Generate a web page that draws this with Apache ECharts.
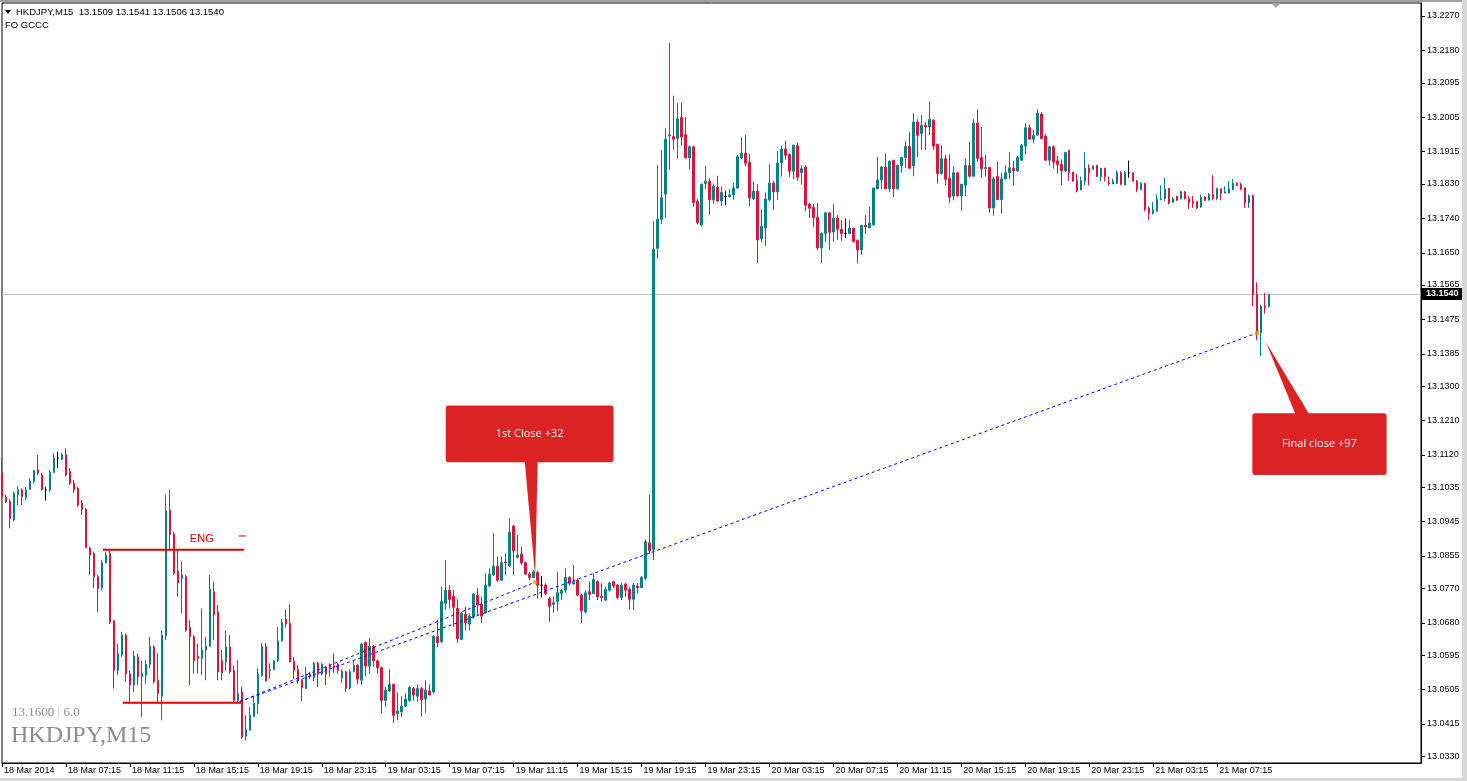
<!DOCTYPE html>
<html><head><meta charset="utf-8">
<script src="https://cdn.jsdelivr.net/npm/echarts@6/dist/echarts.min.js"></script>
<style>html,body{margin:0;padding:0;background:#fff;overflow:hidden}#c{width:1467px;height:781px}</style>
</head><body><div id="c"></div>
<script>
// ---------- DATA (HKDJPY M15, from 18 Mar 2014 03:15) ----------
const symbolName = 'HKDJPY,M15';
const lastQuote = [13.1509, 13.1541, 13.1506, 13.1540]; // O H L C of last bar
const currentPrice = 13.1540;
const startTime = '2014-03-18T03:15:00Z';
const slotCount = 356; // bars + empty chart shift area

const opens = [
13.1072,13.1008,13.0997,13.0949,13.1015,13.1028,13.1008,13.1029,13.1050,13.1080,
13.1067,13.1028,13.1028,13.1074,13.1111,13.1108,13.1120,13.1076,13.1045,13.1032,
13.0993,13.0977,13.0875,13.0861,13.0800,13.0771,13.0837,13.0861,13.0685,13.0555,
13.0595,13.0647,13.0546,13.0516,13.0590,13.0538,13.0542,13.0571,13.0616,13.0529,
13.0487,13.0645,13.0975,13.0912,13.0815,13.0796,13.0800,13.0667,13.0643,13.0592,
13.0586,13.0608,13.0618,13.0761,13.0708,13.0580,13.0577,13.0616,13.0555,13.0476,
13.0498,13.0382,13.0398,13.0434,13.0468,13.0542,13.0618,13.0557,13.0557,13.0580,
13.0632,13.0689,13.0678,13.0579,13.0557,13.0529,13.0507,13.0545,13.0536,13.0573,
13.0545,13.0564,13.0567,13.0567,13.0571,13.0535,13.0551,13.0509,13.0551,13.0568,
13.0529,13.0628,13.0566,13.0618,13.0580,13.0562,13.0476,13.0501,13.0518,13.0441,
13.0446,13.0461,13.0476,13.0507,13.0487,13.0507,13.0480,13.0501,13.0498,13.0643,
13.0630,13.0730,13.0765,13.0749,13.0717,13.0636,13.0702,13.0676,13.0695,13.0752,
13.0728,13.0706,13.0776,13.0805,13.0828,13.0791,13.0839,13.0829,13.0933,13.0851,
13.0860,13.0837,13.0807,13.0798,13.0811,13.0778,13.0778,13.0743,13.0728,13.0735,
13.0756,13.0765,13.0798,13.0781,13.0791,13.0752,13.0708,13.0761,13.0756,13.0787,
13.0749,13.0739,13.0765,13.0787,13.0778,13.0746,13.0781,13.0767,13.0741,13.0776,
13.0772,13.0796,13.0889,13.0871,13.1661,13.1737,13.1803,13.1956,13.1954,13.1949,
13.2004,13.1959,13.1898,13.1927,13.1784,13.1722,13.1831,13.1837,13.1788,13.1821,
13.1785,13.1797,13.1797,13.1801,13.1819,13.1898,13.1910,13.1886,13.1791,13.1811,
13.1686,13.1714,13.1788,13.1832,13.1809,13.1885,13.1921,13.1907,13.1863,13.1930,
13.1859,13.1874,13.1777,13.1768,13.1742,13.1662,13.1700,13.1754,13.1704,13.1740,
13.1711,13.1700,13.1700,13.1714,13.1682,13.1657,13.1721,13.1715,13.1723,13.1817,
13.1840,13.1874,13.1817,13.1892,13.1817,13.1878,13.1899,13.1928,13.1877,13.1992,
13.1962,13.1983,13.1979,13.1997,13.1934,13.1857,13.1896,13.1844,13.1798,13.1859,
13.1798,13.1827,13.1878,13.1850,13.1989,13.1899,13.1870,13.1873,13.1767,13.1849,
13.1789,13.1843,13.1859,13.1871,13.1864,13.1892,13.1929,13.1977,13.1947,13.1958,
13.2013,13.1955,13.1892,13.1927,13.1890,13.1881,13.1864,13.1918,13.1861,13.1839,
13.1814,13.1837,13.1871,13.1868,13.1878,13.1849,13.1871,13.1833,13.1830,13.1831,
13.1859,13.1827,13.1859,13.1859,13.1837,13.1815,13.1831,13.1767,13.1752,13.1758,
13.1789,13.1791,13.1818,13.1782,13.1798,13.1791,13.1809,13.1791,13.1784,13.1784,
13.1769,13.1795,13.1787,13.1802,13.1791,13.1817,13.1806,13.1806,13.1815,13.1831,
13.1828,13.1820,13.1780,13.1799,13.1540,13.1439,13.1509,13.1509];

const highs = [
13.1111,13.1015,13.1003,13.1023,13.1036,13.1032,13.1035,13.1058,13.1080,13.1120,
13.1072,13.1036,13.1080,13.1124,13.1128,13.1124,13.1137,13.1085,13.1054,13.1036,
13.1001,13.0980,13.0879,13.0866,13.0805,13.0844,13.0866,13.0868,13.0686,13.0625,
13.0656,13.0651,13.0555,13.0606,13.0599,13.0581,13.0581,13.0643,13.0621,13.0599,
13.0660,13.1015,13.1028,13.0918,13.0870,13.0840,13.0805,13.0686,13.0647,13.0625,
13.0717,13.0643,13.0805,13.0787,13.0726,13.0608,13.0660,13.0647,13.0568,13.0581,
13.0511,13.0437,13.0459,13.0485,13.0560,13.0627,13.0627,13.0573,13.0581,13.0669,
13.0690,13.0714,13.0728,13.0590,13.0568,13.0531,13.0564,13.0551,13.0577,13.0577,
13.0574,13.0564,13.0573,13.0599,13.0574,13.0557,13.0553,13.0557,13.0580,13.0571,
13.0627,13.0630,13.0640,13.0621,13.0583,13.0564,13.0511,13.0557,13.0520,13.0497,
13.0487,13.0494,13.0513,13.0511,13.0518,13.0511,13.0529,13.0518,13.0647,13.0688,
13.0774,13.0844,13.0778,13.0765,13.0741,13.0708,13.0721,13.0704,13.0758,13.0770,
13.0748,13.0809,13.0822,13.0914,13.0853,13.0853,13.0861,13.0953,13.0936,13.0910,
13.0879,13.0840,13.0813,13.0818,13.0816,13.0802,13.0783,13.0748,13.0748,13.0813,
13.0767,13.0822,13.0802,13.0831,13.0796,13.0756,13.0765,13.0787,13.0809,13.0791,
13.0783,13.0774,13.0787,13.0790,13.0781,13.0784,13.0784,13.0774,13.0784,13.0783,
13.0802,13.0898,13.1015,13.1733,13.1879,13.1918,13.1976,13.2199,13.2061,13.2042,
13.2042,13.2005,13.1930,13.1930,13.1790,13.1831,13.1877,13.1845,13.1831,13.1851,
13.1823,13.1811,13.1816,13.1833,13.1906,13.1952,13.1958,13.1908,13.1836,13.1829,
13.1763,13.1807,13.1881,13.1838,13.1916,13.1930,13.1943,13.1910,13.1933,13.1938,
13.1879,13.1879,13.1781,13.1777,13.1779,13.1702,13.1756,13.1754,13.1777,13.1748,
13.1735,13.1739,13.1735,13.1714,13.1684,13.1721,13.1748,13.1770,13.1819,13.1901,
13.1877,13.1910,13.1891,13.1892,13.1881,13.1899,13.1942,13.1966,13.2015,13.1999,
13.2010,13.1992,13.2046,13.1999,13.1934,13.1931,13.1907,13.1907,13.1875,13.1859,
13.1829,13.1896,13.1940,13.1999,13.2025,13.1979,13.1907,13.1873,13.1849,13.1887,
13.1859,13.1878,13.1913,13.1890,13.1903,13.1934,13.1989,13.1986,13.1971,13.2025,
13.2018,13.1960,13.1929,13.1931,13.1903,13.1894,13.1913,13.1918,13.1861,13.1857,
13.1849,13.1913,13.1881,13.1878,13.1880,13.1871,13.1872,13.1849,13.1843,13.1865,
13.1864,13.1864,13.1891,13.1859,13.1840,13.1834,13.1833,13.1771,13.1782,13.1802,
13.1826,13.1846,13.1818,13.1796,13.1798,13.1811,13.1811,13.1798,13.1798,13.1784,
13.1802,13.1798,13.1806,13.1852,13.1820,13.1817,13.1824,13.1837,13.1843,13.1834,
13.1833,13.1820,13.1802,13.1802,13.1572,13.1513,13.1544,13.1541];

const lows = [
13.1008,13.0993,13.0927,13.0945,13.0988,13.0988,13.1001,13.1028,13.1045,13.1067,
13.1026,13.1000,13.1023,13.1072,13.1085,13.1106,13.1063,13.1041,13.1019,13.0984,
13.0962,13.0875,13.0805,13.0770,13.0708,13.0765,13.0835,13.0676,13.0507,13.0542,
13.0590,13.0525,13.0468,13.0498,13.0516,13.0433,13.0520,13.0560,13.0520,13.0468,
13.0424,13.0634,13.0870,13.0805,13.0748,13.0704,13.0656,13.0516,13.0546,13.0546,
13.0542,13.0529,13.0616,13.0634,13.0529,13.0529,13.0555,13.0546,13.0472,13.0468,
13.0376,13.0371,13.0398,13.0433,13.0441,13.0538,13.0526,13.0533,13.0555,13.0577,
13.0630,13.0667,13.0577,13.0533,13.0520,13.0474,13.0506,13.0533,13.0526,13.0511,
13.0542,13.0516,13.0538,13.0548,13.0546,13.0522,13.0498,13.0504,13.0550,13.0518,
13.0516,13.0539,13.0546,13.0564,13.0546,13.0441,13.0459,13.0498,13.0417,13.0424,
13.0433,13.0459,13.0472,13.0476,13.0472,13.0434,13.0444,13.0490,13.0494,13.0616,
13.0627,13.0714,13.0717,13.0669,13.0627,13.0634,13.0660,13.0660,13.0691,13.0700,
13.0679,13.0704,13.0774,13.0802,13.0787,13.0790,13.0805,13.0826,13.0805,13.0848,
13.0831,13.0805,13.0791,13.0796,13.0743,13.0746,13.0752,13.0682,13.0706,13.0711,
13.0739,13.0758,13.0778,13.0780,13.0749,13.0679,13.0704,13.0739,13.0755,13.0739,
13.0735,13.0736,13.0761,13.0770,13.0741,13.0739,13.0748,13.0714,13.0713,13.0756,
13.0770,13.0791,13.0861,13.0844,13.1634,13.1724,13.1742,13.1867,13.1919,13.1896,
13.1930,13.1898,13.1868,13.1770,13.1724,13.1720,13.1816,13.1749,13.1778,13.1783,
13.1772,13.1774,13.1794,13.1788,13.1816,13.1895,13.1877,13.1772,13.1788,13.1623,
13.1676,13.1667,13.1785,13.1762,13.1788,13.1849,13.1893,13.1848,13.1842,13.1838,
13.1828,13.1758,13.1741,13.1717,13.1656,13.1623,13.1678,13.1656,13.1679,13.1683,
13.1681,13.1688,13.1698,13.1678,13.1621,13.1644,13.1699,13.1714,13.1720,13.1816,
13.1816,13.1816,13.1808,13.1795,13.1815,13.1859,13.1872,13.1868,13.1850,13.1900,
13.1919,13.1919,13.1958,13.1919,13.1831,13.1855,13.1826,13.1780,13.1787,13.1798,
13.1759,13.1798,13.1846,13.1849,13.1888,13.1846,13.1849,13.1754,13.1747,13.1787,
13.1752,13.1842,13.1842,13.1826,13.1861,13.1890,13.1907,13.1947,13.1936,13.1955,
13.1947,13.1890,13.1878,13.1870,13.1857,13.1826,13.1861,13.1837,13.1837,13.1808,
13.1814,13.1826,13.1826,13.1868,13.1849,13.1837,13.1837,13.1826,13.1829,13.1830,
13.1826,13.1827,13.1846,13.1837,13.1808,13.1813,13.1758,13.1736,13.1750,13.1757,
13.1787,13.1785,13.1776,13.1780,13.1785,13.1789,13.1789,13.1764,13.1767,13.1764,
13.1767,13.1785,13.1787,13.1787,13.1787,13.1787,13.1805,13.1805,13.1813,13.1824,
13.1813,13.1767,13.1767,13.1509,13.1421,13.1378,13.1490,13.1506];

const closes = [
13.1010,13.0997,13.0953,13.1019,13.1028,13.1010,13.1028,13.1050,13.1078,13.1072,
13.1028,13.1028,13.1074,13.1111,13.1111,13.1120,13.1067,13.1045,13.1028,13.0988,
13.0977,13.0877,13.0857,13.0800,13.0770,13.0837,13.0857,13.0682,13.0555,13.0599,
13.0647,13.0546,13.0516,13.0592,13.0538,13.0546,13.0571,13.0618,13.0525,13.0494,
13.0647,13.0973,13.0910,13.0809,13.0784,13.0805,13.0660,13.0643,13.0580,13.0586,
13.0608,13.0618,13.0767,13.0700,13.0551,13.0549,13.0616,13.0551,13.0476,13.0494,
13.0380,13.0399,13.0437,13.0468,13.0545,13.0618,13.0527,13.0555,13.0580,13.0632,
13.0681,13.0676,13.0577,13.0555,13.0527,13.0509,13.0545,13.0538,13.0573,13.0545,
13.0571,13.0545,13.0562,13.0562,13.0555,13.0553,13.0507,13.0551,13.0568,13.0532,
13.0623,13.0566,13.0618,13.0580,13.0562,13.0476,13.0503,13.0518,13.0437,13.0448,
13.0461,13.0479,13.0510,13.0490,13.0507,13.0478,13.0503,13.0490,13.0644,13.0627,
13.0735,13.0765,13.0741,13.0720,13.0638,13.0704,13.0679,13.0697,13.0755,13.0726,
13.0697,13.0778,13.0807,13.0828,13.0791,13.0837,13.0837,13.0917,13.0868,13.0857,
13.0837,13.0807,13.0798,13.0813,13.0778,13.0778,13.0756,13.0723,13.0732,13.0758,
13.0765,13.0798,13.0783,13.0787,13.0752,13.0711,13.0758,13.0754,13.0793,13.0748,
13.0746,13.0767,13.0784,13.0776,13.0746,13.0778,13.0765,13.0741,13.0778,13.0771,
13.0798,13.0892,13.0868,13.1658,13.1737,13.1794,13.1947,13.1959,13.1947,13.2000,
13.1953,13.1898,13.1927,13.1781,13.1728,13.1828,13.1837,13.1788,13.1824,13.1785,
13.1807,13.1797,13.1801,13.1819,13.1901,13.1910,13.1884,13.1793,13.1811,13.1683,
13.1719,13.1790,13.1832,13.1809,13.1884,13.1921,13.1905,13.1863,13.1931,13.1847,
13.1870,13.1774,13.1766,13.1741,13.1662,13.1700,13.1754,13.1703,13.1740,13.1711,
13.1700,13.1700,13.1714,13.1678,13.1657,13.1721,13.1717,13.1727,13.1819,13.1840,
13.1874,13.1817,13.1889,13.1817,13.1878,13.1899,13.1928,13.1871,13.1992,13.1957,
13.1983,13.1979,13.1999,13.1929,13.1857,13.1896,13.1842,13.1795,13.1859,13.1798,
13.1829,13.1878,13.1850,13.1989,13.1897,13.1870,13.1873,13.1767,13.1843,13.1789,
13.1843,13.1859,13.1872,13.1864,13.1899,13.1931,13.1977,13.1947,13.1957,13.2015,
13.1949,13.1892,13.1927,13.1887,13.1881,13.1864,13.1912,13.1859,13.1837,13.1811,
13.1839,13.1871,13.1859,13.1877,13.1849,13.1871,13.1849,13.1830,13.1836,13.1859,
13.1829,13.1859,13.1859,13.1837,13.1815,13.1831,13.1763,13.1752,13.1761,13.1789,
13.1791,13.1817,13.1780,13.1791,13.1787,13.1809,13.1791,13.1780,13.1780,13.1767,
13.1795,13.1787,13.1802,13.1792,13.1817,13.1805,13.1809,13.1817,13.1831,13.1827,
13.1817,13.1780,13.1799,13.1540,13.1439,13.1509,13.1505,13.1540];

const timeTickLabels = ['18 Mar 2014','18 Mar 07:15','18 Mar 11:15','18 Mar 15:15','18 Mar 19:15',
 '18 Mar 23:15','19 Mar 03:15','19 Mar 07:15','19 Mar 11:15','19 Mar 15:15','19 Mar 19:15',
 '19 Mar 23:15','20 Mar 03:15','20 Mar 07:15','20 Mar 11:15','20 Mar 15:15','20 Mar 19:15',
 '20 Mar 23:15','21 Mar 03:15','21 Mar 07:15'];
const barsPerTimeTick = 16;
const priceTickLabels = ['13.2270','13.2180','13.2095','13.2005','13.1915','13.1830','13.1740',
 '13.1650','13.1565','13.1475','13.1385','13.1300','13.1210','13.1120','13.1035','13.0945',
 '13.0855','13.0770','13.0680','13.0595','13.0505','13.0415','13.0330'];

// annotations (bar index, price)
const engLevel = {price:13.0871, from:25.25, to:60.5};
const lowLevel = {price:13.0470, from:30.25, to:59.75};
const trendStart = [59.5, 13.0473];
const firstCloseEnd = [133.4, 13.0786];
const finalCloseEnd = [314, 13.1439];
const callouts = [
  {text:'1st Close +32', box:[111,13.1249,153,13.1100], base:[130.75,134], tip:[133.4,13.0800], top:false},
  {text:'Final close +97', box:[312.8,13.1229,346.4,13.1067], base:[323.7,327.2], tip:[316.2,13.1415], top:true}
];

// ---------- BUILD ----------
const t0 = Date.parse(startTime);
const months = ['Jan','Feb','Mar','Apr','May','Jun','Jul','Aug','Sep','Oct','Nov','Dec'];
const categories = [];
for (let i = 0; i < slotCount; i++) {
  const d = new Date(t0 + i * 900000);
  categories.push(d.getUTCDate() + ' ' + months[d.getUTCMonth()] + ' ' +
    String(d.getUTCHours()).padStart(2,'0') + ':' + String(d.getUTCMinutes()).padStart(2,'0'));
}
const candleData = opens.map((o, i) => {
  const item = {value: [o, closes[i], lows[i], highs[i]]};
  if (o === closes[i]) item.itemStyle = {color:'#000', color0:'#000', borderColor:'#000', borderColor0:'#000'};
  return item;
});
const priceTicks = priceTickLabels.map(Number);
const showTime = (idx) => idx % barsPerTimeTick === 0 && idx / barsPerTimeTick < timeTickLabels.length;
const AX = 'Liberation Sans';
const GRID = {left:2, right:46, top:3, bottom:18};

const chart = echarts.init(document.getElementById('c'), null, {renderer:'canvas'});
const option = {
  animation: false,
  backgroundColor: '#ffffff',
  grid: Object.assign({show:true, borderColor:'#000', borderWidth:1, backgroundColor:'#fff'}, GRID),
  xAxis: [{
    type:'category', data:categories, boundaryGap:false,
    axisLine:{show:true, onZero:false, lineStyle:{color:'#000', width:1}},
    axisTick:{show:true, interval:(i)=>showTime(i), length:4, lineStyle:{color:'#000'}},
    axisLabel:{show:true, interval:(i)=>showTime(i), formatter:(v,i)=>timeTickLabels[i/barsPerTimeTick]||'',
      align:'left', color:'#000', fontSize:9, fontFamily:AX, margin:3, padding:[0,0,0,2]},
    splitLine:{show:false}
  },{
    type:'value', min:0, max:slotCount-1, show:false,
    axisLine:{show:false, onZero:false}, axisTick:{show:false}, axisLabel:{show:false}, splitLine:{show:false}
  }],
  yAxis: {
    type:'value', position:'right', min:13.0312, max:13.2304,
    axisLine:{show:true, onZero:false, lineStyle:{color:'#000'}},
    axisTick:{show:false},
    axisLabel:{show:true, customValues:priceTicks, formatter:(v)=>Number(v).toFixed(4),
      color:'#000', fontSize:9, fontFamily:AX, margin:6},
    splitLine:{show:false}
  },
  series: [
    {type:'line', xAxisIndex:1, data:[[0,currentPrice],[slotCount-1,currentPrice]],
      symbol:'none', lineStyle:{color:'#c0c0c0', width:1}, z:1, silent:true},
    {
      type:'candlestick', xAxisIndex:0, yAxisIndex:0, data:candleData, barWidth:2,
      itemStyle:{color:'#1f7a96', color0:'#dc143c', borderColor:'#008080', borderColor0:'#dc143c', borderWidth:1},
      z:2
    },
    {type:'line', xAxisIndex:1, data:[[engLevel.from,engLevel.price],[engLevel.to,engLevel.price]],
      symbol:'none', lineStyle:{color:'#dd0000', width:2}, z:5, silent:true},
    {type:'line', xAxisIndex:1, data:[[lowLevel.from,lowLevel.price],[lowLevel.to,lowLevel.price]],
      symbol:'none', lineStyle:{color:'#dd0000', width:2}, z:5, silent:true},
    {type:'line', xAxisIndex:1, data:[trendStart, firstCloseEnd],
      symbol:'none', lineStyle:{color:'#0000ff', width:1, type:[3,3]}, z:5, silent:true},
    {type:'line', xAxisIndex:1, data:[trendStart, finalCloseEnd],
      symbol:'none', lineStyle:{color:'#0000ff', width:1, type:[3,3]}, z:5, silent:true},
    {type:'scatter', xAxisIndex:1, data:[firstCloseEnd, finalCloseEnd], symbol:'rect', symbolSize:4,
      itemStyle:{color:'#f0a000'}, z:6, silent:true}
  ]
};
chart.setOption(option);

const px = (x, y) => chart.convertToPixel({xAxisIndex:1, yAxisIndex:0}, [x, y]);
const g = [];
// window frame
g.push({type:'rect', shape:{x:0,y:0,width:1467,height:2}, style:{fill:'#a0a0a0'}, z:100});
g.push({type:'rect', shape:{x:1462,y:0,width:5,height:781}, style:{fill:'#d8d8d8'}, z:100});
g.push({type:'rect', shape:{x:0,y:778,width:1467,height:3}, style:{fill:'#d8d8d8'}, z:100});
// price axis ticks (outside, right of the plot frame)
const axisX = chart.getWidth() - GRID.right;
priceTicks.forEach(v => {
  const y = Math.round(chart.convertToPixel({yAxisIndex:0}, v)) + 0.5;
  g.push({type:'line', shape:{x1:axisX, y1:y, x2:axisX+4, y2:y}, style:{stroke:'#000', lineWidth:1}, z:45});
});
// header
g.push({type:'polygon', shape:{points:[[5,10],[11,10],[8,14]]}, style:{fill:'#000'}, z:50});
g.push({type:'text', x:16, y:12, style:{text:symbolName+'  '+lastQuote.map(v=>v.toFixed(4)).join(' '),
  font:'9.5px "'+AX+'"', fill:'#000', align:'left', verticalAlign:'middle', textAlign:'left', textVerticalAlign:'middle'}, z:50});
g.push({type:'text', x:5, y:25, style:{text:'FO GCCC', font:'9.5px "'+AX+'"', fill:'#000',
  align:'left', verticalAlign:'middle', textAlign:'left', textVerticalAlign:'middle'}, z:50});
// watermark
g.push({type:'text', x:12, y:713, style:{text:'{a|13.1600} {b||} {a|6.0}',
  rich:{a:{fill:'#8c8c8c', font:'13px "Liberation Serif"'}, b:{fill:'#c8c8c8', font:'13px "Liberation Serif"'}},
  align:'left', verticalAlign:'middle', textAlign:'left', textVerticalAlign:'middle'}, z:1});
g.push({type:'text', x:11, y:736, style:{text:symbolName, font:'24px "Liberation Serif"', fill:'#8c8c8c',
  align:'left', verticalAlign:'middle', textAlign:'left', textVerticalAlign:'middle'}, z:1});
// ENG label
const engP = px(47, 13.0900);
g.push({type:'text', x:engP[0], y:engP[1], style:{text:'ENG', font:'11px "Liberation Sans"', fill:'#dd0000',
  align:'left', verticalAlign:'middle', textAlign:'left', textVerticalAlign:'middle'}, z:20});
const d1 = px(59.25, 13.0907), d2 = px(61, 13.0907);
g.push({type:'line', shape:{x1:d1[0], y1:d1[1], x2:d2[0], y2:d2[1]}, style:{stroke:'#dd0000', lineWidth:1}, z:20});
// callouts
callouts.forEach(c => {
  const a = px(c.box[0], c.box[1]), b = px(c.box[2], c.box[3]);
  const by = c.top ? a[1] : b[1];
  const b1 = px(c.base[0], currentPrice)[0], b2 = px(c.base[1], currentPrice)[0];
  const t = px(c.tip[0], c.tip[1]);
  g.push({type:'polygon', shape:{points:[[b1, by + (c.top?2:-2)],[b2, by + (c.top?2:-2)],[t[0], t[1]]]},
    style:{fill:'#dc2323'}, z:30});
  g.push({type:'rect', shape:{x:a[0], y:a[1], width:b[0]-a[0], height:b[1]-a[1], r:3}, style:{fill:'#dc2323'}, z:30});
  g.push({type:'text', x:(a[0]+b[0])/2, y:(a[1]+b[1])/2, style:{text:c.text, font:'11px "Open Sans"', fill:'#fff',
    align:'center', verticalAlign:'middle', textAlign:'center', textVerticalAlign:'middle'}, z:31});
});
// current price box
const cp = px(0, currentPrice);
g.push({type:'rect', shape:{x:axisX+1, y:Math.round(cp[1])-6, width:40, height:12}, style:{fill:'#000'}, z:40});
g.push({type:'text', x:axisX+5, y:Math.round(cp[1]), style:{text:currentPrice.toFixed(4), font:'bold 9px "'+AX+'"', fill:'#fff',
  align:'left', verticalAlign:'middle', textAlign:'left', textVerticalAlign:'middle'}, z:41});
// chart shift marker
const sx = px(318.7, currentPrice)[0];
g.push({type:'polygon', shape:{points:[[sx-5,3],[sx+5,3],[sx,8]]}, style:{fill:'#a8a8a8'}, z:60});
chart.setOption({graphic: g});
</script></body></html>
